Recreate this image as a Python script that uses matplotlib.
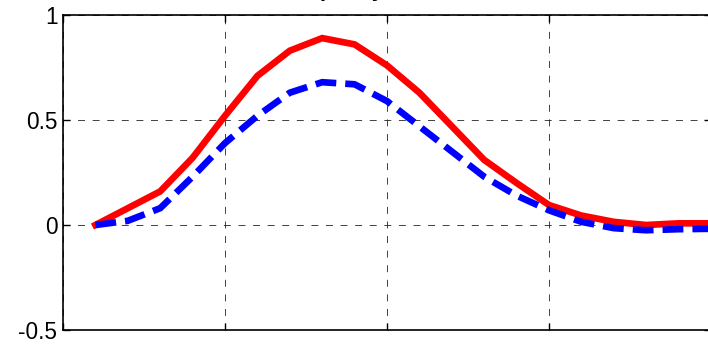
import numpy as np
import matplotlib
matplotlib.use('Agg')
import matplotlib.pyplot as plt

# impulse responses, periods 1..20
periods = np.arange(1, 21)
resp_solid = [0.0, 0.08, 0.16, 0.32, 0.52, 0.71, 0.83, 0.89, 0.86, 0.76,
              0.63, 0.47, 0.31, 0.20, 0.095, 0.045, 0.015, 0.0, 0.008, 0.008]
resp_dashed = [0.0, 0.02, 0.08, 0.23, 0.39, 0.52, 0.63, 0.68, 0.67, 0.59,
               0.47, 0.35, 0.23, 0.14, 0.07, 0.015, -0.015, -0.025, -0.02, -0.018]

xticks = [0, 5, 10, 15, 20]
yticks = [-0.5, 0, 0.5, 1]
ytick_labels = ['-0.5', '0', '0.5', '1']
title = 'policy shock'

plt.rcParams['font.family'] = ['Liberation Sans', 'DejaVu Sans']
plt.rcParams['lines.scale_dashes'] = False
plt.rcParams['axes.unicode_minus'] = False

fig = plt.figure(figsize=(7.08, 3.47), dpi=100)
# axes runs slightly past the right edge of the picture (cropped figure)
ax = fig.add_axes([63/708, 17/347, 648/708, 315/347])

ax.plot(periods, resp_solid, color=(1, 0, 0), lw=4.8, solid_joinstyle='miter')
ax.plot(periods, resp_dashed, color=(0, 0, 1), lw=4.8,
        linestyle=(0, (15, 6.5)), dash_capstyle='butt')

ax.set_xlim(0, 20)
ax.set_ylim(-0.5, 1)
ax.set_xticks(xticks)
ax.set_yticks(yticks)
ax.set_yticklabels(ytick_labels)

ax.grid(True, color='#222222', lw=0.6, linestyle=(0, (5, 5.5)))
ax.set_axisbelow(True)
for s in ax.spines.values():
    s.set_linewidth(1.2)

ax.tick_params(direction='in', length=5, width=1, top=True, right=True,
               labelsize=16.3, pad=4)
# x labels fall below the cropped bottom edge of the picture
ax.tick_params(axis='x', pad=30)

ax.set_title(title, fontsize=16, fontweight='bold', pad=13.6)

fig.savefig('out.png', dpi=100)
